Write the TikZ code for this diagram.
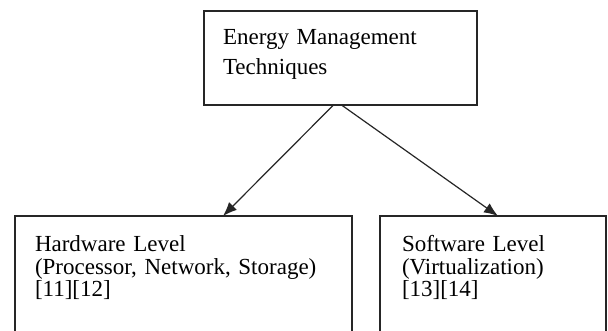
\documentclass[tikz,border=0pt]{standalone}
\usepackage{fontspec}
\setmainfont{Liberation Serif}
\usetikzlibrary{arrows.meta,positioning}

\newcommand{\topstrut}[1]{\rule{0pt}{#1}}
\newcommand{\botstrut}[1]{\rule[-#1]{0pt}{#1}}

\tikzset{
  levelbox/.style={draw=black!85, line width=1.5pt, outer sep=0pt, inner ysep=0pt,
    align=left, anchor=north west, font=\fontsize{23}{22.5}\selectfont},
  arr/.style={draw=black!85, line width=1.2pt, -{Latex[length=14pt,width=11pt]}}
}

\begin{document}
\begin{tikzpicture}[x=1pt,y=-1pt]
\clip (0,0) rectangle (608,331);
\fill[white] (0,0) rectangle (608,331);

\node[levelbox, inner xsep=19pt, text width=235pt,
      font=\fontsize{23}{30}\selectfont] (emt) at (204,11)
      {\topstrut{34pt}Energy Management\\Techniques\botstrut{30pt}};
\node[levelbox, inner xsep=20pt, text width=297pt] (hw) at (15,216)
      {\topstrut{36pt}Hardware Level\\(Processor, Network, Storage)\\{}[11][12]\botstrut{63pt}};
\node[levelbox, inner xsep=22pt, text width=182pt] (sw) at (380,216)
      {\topstrut{36pt}Software Level\\(Virtualization)\\{}[13][14]\botstrut{63pt}};

\draw[arr] ([xshift=-7pt]emt.south) -- ([xshift=39.5pt]hw.north);
\draw[arr] ([xshift=1pt]emt.south) -- ([xshift=5pt]sw.north);
\end{tikzpicture}
\end{document}
